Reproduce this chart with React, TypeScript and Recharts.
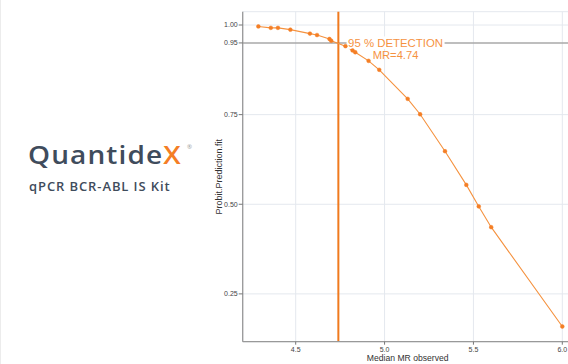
import React from "react";
import {
  ComposedChart,
  Line,
  XAxis,
  YAxis,
  CartesianGrid,
  ReferenceLine,
  ReferenceDot,
  Label,
} from "recharts";

const medianMR = [4.29, 4.36, 4.4, 4.47, 4.58, 4.62, 4.69, 4.7, 4.78, 4.82, 4.835, 4.91, 4.97, 5.13, 5.2, 5.34, 5.46, 5.53, 5.6, 6.0];
const probitFit = [0.996, 0.992, 0.992, 0.987, 0.976, 0.972, 0.961, 0.956, 0.941, 0.929, 0.924, 0.9, 0.875, 0.794, 0.751, 0.648, 0.554, 0.494, 0.436, 0.159];
const xTicks = [4.5, 5.0, 5.5, 6.0];
const yTicks = [0.25, 0.5, 0.75, 0.95, 1.0];
const detectionLevel = 0.95;
const detectionMR = 4.74;
const annotationLines = ["95 % DETECTION", "MR=4.74"];
const annotationAnchorX = 5.062;

const data = medianMR.map((mr, i) => ({ mr, p: probitFit[i] }));

const ORANGE = "#F47E25";
const LINE_ORANGE = "#F5923F";
const SLATE = "#3F4C5C";

const AnnotationShape = (props: any) => {
  const { cx, cy } = props;
  if (cx == null || cy == null) return null;
  return (
    <g>
      <rect x={cx - 49} y={cy - 6.5} width={98} height={12.5} fill="#ffffff" />
      <text
        x={cx}
        y={cy}
        textAnchor="middle"
        dominantBaseline="central"
        fontFamily="Liberation Sans, Arial, sans-serif"
        fontSize={11.4}
        fill={LINE_ORANGE}
      >
        {annotationLines[0]}
      </text>
      <text
        x={cx}
        y={cy + 11.6}
        textAnchor="middle"
        dominantBaseline="central"
        fontFamily="Liberation Sans, Arial, sans-serif"
        fontSize={11.2}
        fill={LINE_ORANGE}
      >
        {annotationLines[1]}
      </text>
    </g>
  );
};

export default function App() {
  const tickStyle = { fontSize: 7, fill: "#444", fontFamily: "Liberation Sans, Arial, sans-serif" };
  return (
    <div
      style={{
        position: "absolute",
        left: 0,
        top: 0,
        width: 568,
        height: 364,
        overflow: "hidden",
        background: "#ffffff",
      }}
    >
      <div style={{ position: "absolute", left: 0, top: 0, width: 1, height: 364, background: "#ececec" }} />
      <svg width={200} height={364} style={{ position: "absolute", left: 0, top: 0 }}>
        <g transform="translate(28,164) scale(1.12,1)">
          <text
            x={0}
            y={0}
            fontFamily="'Open Sans', sans-serif"
            fontWeight={600}
            fontSize={25}
            letterSpacing={1}
            fill={SLATE}
          >
            Quantide<tspan fill={ORANGE}>X</tspan>
          </text>
        </g>
        <text x={187} y={149} fontFamily="'Open Sans', sans-serif" fontSize={6} fill="#999">
          ®
        </text>
        <text
          x={29}
          y={191}
          fontFamily="'Open Sans', sans-serif"
          fontWeight={600}
          fontSize={13}
          letterSpacing={0.9}
          fill={SLATE}
        >
          qPCR BCR-ABL IS Kit
        </text>
      </svg>
      <div style={{ position: "absolute", left: 0, top: 0 }}>
        <ComposedChart
          width={580}
          height={364}
          data={data}
          margin={{ top: 11.7, right: 7.3, left: 202, bottom: 0 }}
        >
          <CartesianGrid stroke="#e4e8ee" strokeWidth={1} />
          <XAxis
            dataKey="mr"
            type="number"
            domain={[4.2018, 6.0585]}
            ticks={xTicks}
            tickFormatter={(v: number) => v.toFixed(1)}
            tick={tickStyle}
            tickSize={3}
            tickLine={{ stroke: "#777" }}
            axisLine={{ stroke: "#999", strokeWidth: 1.3 }}
            height={22.3}
            allowDataOverflow
          >
            <Label
              value="Median MR observed"
              position="insideBottom"
              offset={3}
              style={{ fontSize: 8.6, fill: "#333", fontFamily: "Liberation Sans, Arial, sans-serif" }}
            />
          </XAxis>
          <XAxis
            xAxisId="top"
            orientation="top"
            dataKey="mr"
            type="number"
            domain={[4.2018, 6.0585]}
            tick={false}
            tickLine={false}
            height={0}
            axisLine={{ stroke: "#aaa", strokeWidth: 1.3 }}
            allowDataOverflow
          />
          <YAxis
            type="number"
            domain={[0.1166, 1.0371]}
            ticks={yTicks}
            tickFormatter={(v: number) => v.toFixed(2)}
            tick={tickStyle}
            tickSize={4}
            tickMargin={1}
            tickLine={{ stroke: "#777" }}
            axisLine={{ stroke: "#999", strokeWidth: 1.3 }}
            width={40.7}
            allowDataOverflow
          >
            <Label
              value="Probit.Prediction.fit"
              angle={-90}
              position="insideLeft"
              offset={17}
              style={{ fontSize: 9, fill: "#333", fontFamily: "Liberation Sans, Arial, sans-serif", textAnchor: "middle" }}
            />
          </YAxis>
          <YAxis
            yAxisId="right"
            orientation="right"
            type="number"
            domain={[0.1166, 1.0371]}
            tick={false}
            tickLine={false}
            width={0}
            axisLine={{ stroke: "#aaa", strokeWidth: 1.3 }}
          />
          <ReferenceLine y={detectionLevel} stroke="#a9a9a9" strokeWidth={1.5} />
          <ReferenceDot
            x={annotationAnchorX}
            y={detectionLevel}
            r={0}
            shape={AnnotationShape}
          />
          <ReferenceLine x={detectionMR} stroke="#F07A1E" strokeWidth={2} />
          <Line
            dataKey="p"
            type="linear"
            stroke={LINE_ORANGE}
            strokeWidth={1.1}
            dot={{ r: 1.9, fill: ORANGE, stroke: ORANGE, strokeWidth: 0.5 }}
            isAnimationActive={false}
          />
        </ComposedChart>
      </div>
    </div>
  );
}
